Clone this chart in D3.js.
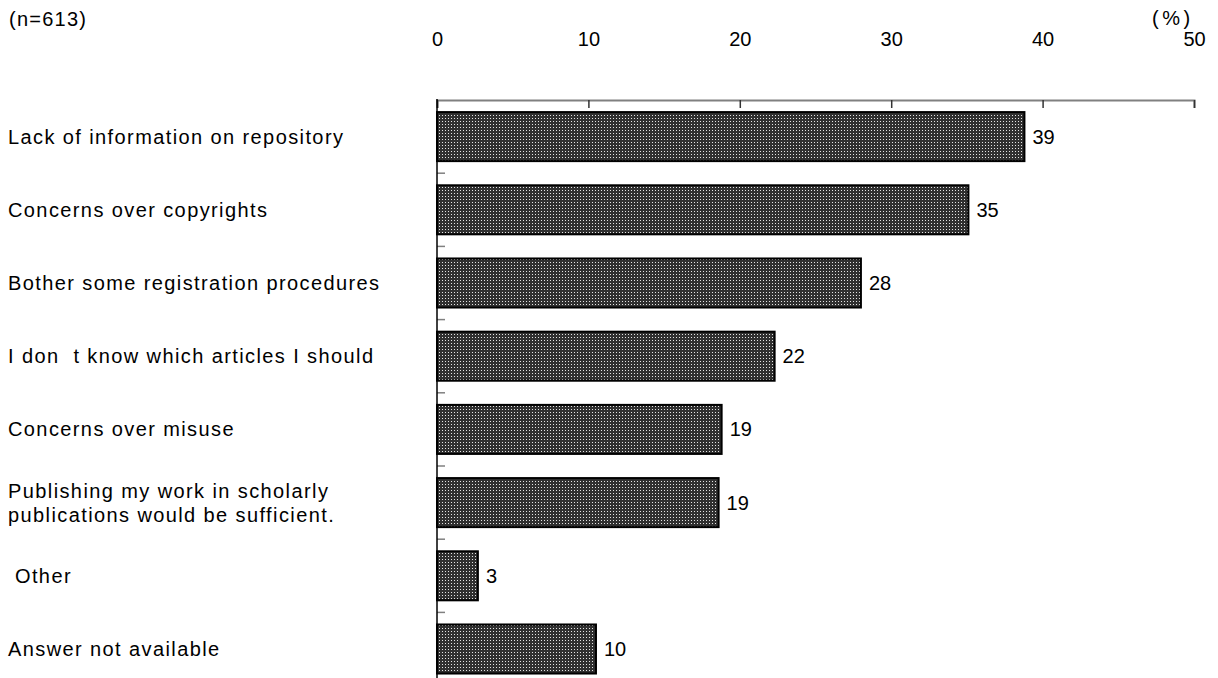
<!DOCTYPE html>
<html>
<head>
<meta charset="utf-8">
<script src="https://cdn.jsdelivr.net/npm/d3@7"></script>
<style>
  body { margin: 0; background: #fff; }
  text { font-family: "Liberation Sans", Arial, sans-serif; fill: #000; }
</style>
</head>
<body>
<div id="chart"></div>
<script>
var categories = [
  ["Lack of information on repository"],
  ["Concerns over copyrights"],
  ["Bother some registration procedures"],
  ["I don  t know which articles I should"],
  ["Concerns over misuse"],
  ["Publishing my work in scholarly", "publications would be sufficient."],
  [" Other"],
  ["Answer not available"]
];
var values = [38.8, 35.1, 28.0, 22.3, 18.8, 18.6, 2.7, 10.5];
var valueLabels = ["39", "35", "28", "22", "19", "19", "3", "10"];
var tickValues = [0, 10, 20, 30, 40, 50];

var width = 1218;
var height = 678;
var margin = { "left": 437, "right": 24, "top": 100 };
var step = 73.2;
var fontSize = 20;

var svg = d3.select("#chart").append("svg")
    .attr("width", width)
    .attr("height", height);

var defs = svg.append("defs");
var pat = defs.append("pattern")
    .attr("id", "dots")
    .attr("patternUnits", "userSpaceOnUse")
    .attr("width", 3)
    .attr("height", 3);
pat.append("rect").attr("width", 3).attr("height", 3).attr("fill", "#303030");
pat.append("rect").attr("x", 1).attr("y", 1).attr("width", 1).attr("height", 1).attr("fill", "#e4e4e4");

var x_scale = d3.scaleLinear()
    .domain([0, 50])
    .range([margin.left, width - margin.right]);

var y_scale = d3.scaleBand()
    .domain(d3.range(categories.length))
    .range([margin.top, margin.top + step * categories.length])
    .paddingInner(0.33)
    .paddingOuter(0.165);

// top axis
var x_axis = d3.axisTop(x_scale)
    .tickValues(tickValues)
    .tickSize(-8)
    .tickPadding(0)
    .tickFormat(d3.format("d"));

var gx = svg.append("g")
    .attr("transform", "translate(0," + margin.top + ")")
    .call(x_axis);
gx.select(".domain").attr("stroke", "#808080").attr("stroke-width", 2);
gx.selectAll(".tick line").attr("stroke", "#333").attr("stroke-width", 1.5);
gx.selectAll(".tick text")
    .attr("y", -61)
    .attr("dy", "0.35em")
    .attr("font-size", fontSize)
    .attr("font-family", "Liberation Sans, Arial, sans-serif")
    .attr("fill", "#000");

// left axis with band boundary ticks
var bounds = d3.range(1, categories.length + 1).map(function(i) { return margin.top + step * i; });
svg.selectAll(".btick")
  .data(bounds)
  .enter()
  .append("line")
  .attr("x1", margin.left)
  .attr("x2", margin.left + 8)
  .attr("y1", function(d) { return d; })
  .attr("y2", function(d) { return d; })
  .attr("stroke", "#808080")
  .attr("stroke-width", 1.5);

// bars
svg.selectAll(".bar")
  .data(values)
  .enter()
  .append("rect")
  .attr("class", "bar")
  .attr("x", x_scale(0))
  .attr("y", function(d, i) { return y_scale(i); })
  .attr("width", function(d) { return x_scale(d) - x_scale(0); })
  .attr("height", y_scale.bandwidth())
  .attr("fill", "url(#dots)")
  .attr("stroke", "#000")
  .attr("stroke-width", 2);

svg.append("line")
  .attr("x1", margin.left)
  .attr("x2", margin.left)
  .attr("y1", margin.top - 1)
  .attr("y2", height)
  .attr("stroke", "#000")
  .attr("stroke-width", 1.5);

// value labels
svg.selectAll(".vlabel")
  .data(values)
  .enter()
  .append("text")
  .attr("x", function(d) { return x_scale(d) + 8; })
  .attr("y", function(d, i) { return y_scale(i) + y_scale.bandwidth() / 2; })
  .attr("dy", "0.35em")
  .attr("font-size", fontSize)
  .text(function(d, i) { return valueLabels[i]; });

// category labels
var cl = svg.selectAll(".clabel")
  .data(categories)
  .enter()
  .append("text")
  .attr("x", 8)
  .attr("y", function(d, i) { return y_scale(i) + y_scale.bandwidth() / 2; })
  .attr("font-size", fontSize)
  .attr("letter-spacing", 1.4)
  .style("white-space", "pre");
cl.each(function(d) {
  var t = d3.select(this);
  var n = d.length;
  d.forEach(function(line, j) {
    t.append("tspan")
      .attr("x", 8)
      .attr("dy", j === 0 ? ((0.35 - (n - 1) * 0.6) + "em") : "1.2em")
      .text(line);
  });
});

svg.append("text")
  .attr("x", 9)
  .attr("y", 19)
  .attr("dy", "0.35em")
  .attr("font-size", fontSize)
  .attr("letter-spacing", 1.25)
  .text("(n=613)");

svg.append("text")
  .attr("x", 1152)
  .attr("y", 18)
  .attr("dy", "0.35em")
  .attr("font-size", fontSize)
  .attr("letter-spacing", 3.5)
  .text("(%)");
</script>
</body>
</html>
